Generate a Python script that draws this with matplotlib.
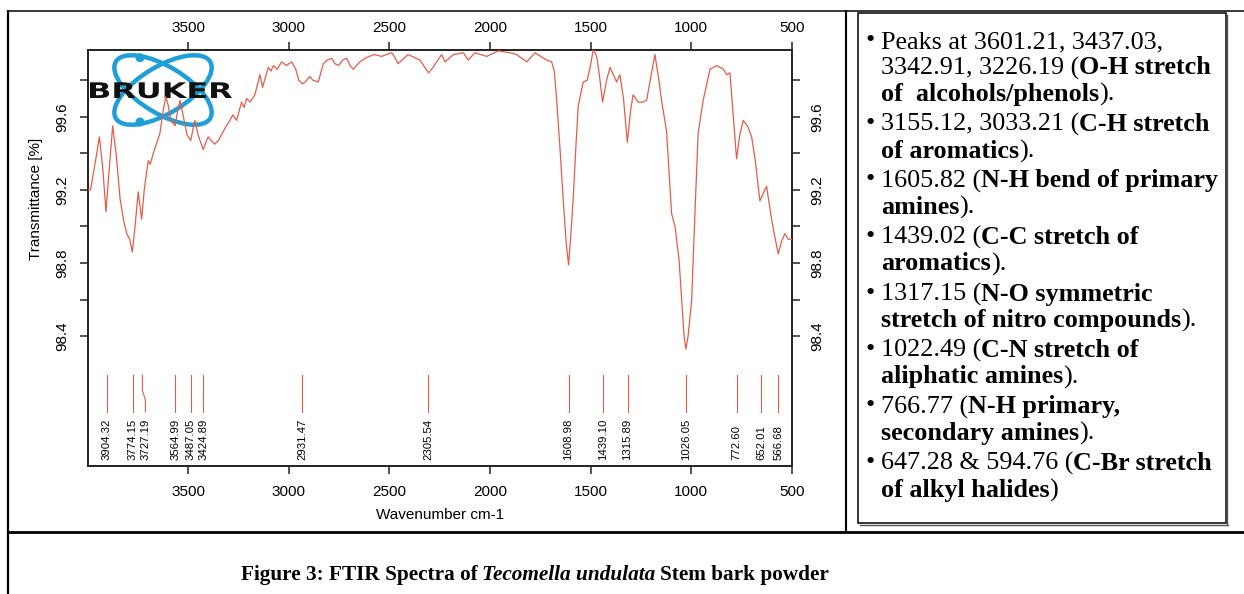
import matplotlib
matplotlib.use('Agg')
import matplotlib.pyplot as plt
import numpy as np
from matplotlib.patches import Ellipse, Circle, Rectangle, PathPatch
from matplotlib.textpath import TextPath
from matplotlib.font_manager import FontProperties
from matplotlib.transforms import Affine2D, ScaledTranslation

# spectrum (wavenumber cm-1, transmittance %)
wavenumber = [4000, 3985, 3960, 3941, 3925, 3908, 3893, 3875, 3858, 3838, 3820, 3805,
              3790, 3777, 3762, 3748, 3740, 3731, 3718, 3698, 3688, 3673, 3658, 3640,
              3626, 3611, 3598, 3586, 3565, 3552, 3540, 3520, 3505, 3487, 3476, 3466,
              3450, 3425, 3412, 3400, 3385, 3368, 3350, 3330, 3310, 3292, 3278, 3259,
              3234, 3222, 3209, 3192, 3168, 3143, 3130, 3120, 3101, 3088, 3076, 3058,
              3035, 3012, 2985, 2965, 2950, 2931, 2918, 2895, 2880, 2853, 2828, 2808,
              2786, 2770, 2752, 2732, 2712, 2695, 2679, 2663, 2646, 2620, 2600, 2575,
              2538, 2515, 2488, 2470, 2456, 2447, 2407, 2348, 2305, 2283, 2240, 2223,
              2182, 2132, 2108, 2074, 2016, 1959, 1900, 1867, 1817, 1776, 1718, 1693,
              1680, 1668, 1650, 1636, 1620, 1609, 1598, 1586, 1572, 1561, 1536, 1516,
              1500, 1486, 1469, 1455, 1440, 1420, 1403, 1370, 1354, 1336, 1317, 1300,
              1288, 1263, 1240, 1221, 1200, 1180, 1160, 1147, 1122, 1097, 1080, 1060,
              1047, 1035, 1026, 1015, 997, 980, 965, 940, 906, 873, 840, 823,
              807, 790, 774, 758, 741, 720, 699, 680, 658, 625, 600, 585,
              567, 550, 534, 517, 500]
transmittance = [99.20, 99.20, 99.36, 99.49, 99.33, 99.08, 99.30, 99.55, 99.40, 99.15, 99.03, 98.96,
                 98.93, 98.86, 99.02, 99.19, 99.12, 99.04, 99.20, 99.36, 99.34, 99.40, 99.45, 99.51,
                 99.62, 99.71, 99.66, 99.58, 99.55, 99.63, 99.69, 99.58, 99.50, 99.47, 99.53, 99.58,
                 99.50, 99.42, 99.46, 99.49, 99.47, 99.45, 99.47, 99.51, 99.55, 99.58, 99.61, 99.58,
                 99.68, 99.65, 99.70, 99.68, 99.72, 99.83, 99.76, 99.80, 99.87, 99.85, 99.88, 99.86,
                 99.90, 99.88, 99.90, 99.86, 99.80, 99.78, 99.79, 99.82, 99.80, 99.79, 99.89, 99.91,
                 99.92, 99.89, 99.88, 99.91, 99.92, 99.88, 99.86, 99.88, 99.90, 99.92, 99.93, 99.94,
                 99.93, 99.94, 99.95, 99.92, 99.89, 99.90, 99.94, 99.91, 99.84, 99.87, 99.94, 99.90,
                 99.94, 99.95, 99.91, 99.95, 99.93, 99.96, 99.95, 99.94, 99.90, 99.95, 99.91, 99.90,
                 99.85, 99.69, 99.40, 99.15, 98.90, 98.79, 98.95, 99.15, 99.45, 99.66, 99.79, 99.80,
                 99.88, 99.97, 99.93, 99.82, 99.68, 99.80, 99.87, 99.79, 99.83, 99.70, 99.46, 99.64,
                 99.72, 99.68, 99.68, 99.69, 99.82, 99.94, 99.80, 99.69, 99.52, 99.07, 99.00, 98.82,
                 98.60, 98.40, 98.33, 98.40, 98.60, 99.10, 99.51, 99.69, 99.86, 99.88, 99.86, 99.83,
                 99.84, 99.60, 99.37, 99.50, 99.58, 99.55, 99.49, 99.35, 99.14, 99.22, 99.04, 98.95,
                 98.85, 98.92, 98.96, 98.93, 98.93]

peaks = [3904.32, 3774.15, 3727.19, 3564.99, 3487.05, 3424.89, 2931.47, 2305.54,
         1608.98, 1439.10, 1315.89, 1026.05, 772.60, 652.01, 566.68]
peak_text = ['3904.32', '3774.15', '3727.19', '3564.99', '3487.05', '3424.89', '2931.47',
             '2305.54', '1608.98', '1439.10', '1315.89', '1026.05', '772.60', '652.01', '566.68']
label_shift = {'3727.19': -15}

x_ticks = [3500, 3000, 2500, 2000, 1500, 1000, 500]
y_ticks = [98.4, 98.6, 98.8, 99.0, 99.2, 99.4, 99.6, 99.8]
y_ticklabels = ['98.4', '', '98.8', '', '99.2', '', '99.6', '']

box_lines = [
    (True, [('Peaks at 3601.21, 3437.03,', False)]),
    (False, [('3342.91, 3226.19 (', False), ('O-H stretch', True)]),
    (False, [('of  alcohols/phenols', True), (').', False)]),
    (True, [('3155.12, 3033.21 (', False), ('C-H stretch', True)]),
    (False, [('of aromatics', True), (').', False)]),
    (True, [('1605.82 (', False), ('N-H bend of primary', True)]),
    (False, [('amines', True), (').', False)]),
    (True, [('1439.02 (', False), ('C-C stretch of', True)]),
    (False, [('aromatics', True), (').', False)]),
    (True, [('1317.15 (', False), ('N-O symmetric', True)]),
    (False, [('stretch of nitro compounds', True), (').', False)]),
    (True, [('1022.49 (', False), ('C-N stretch of', True)]),
    (False, [('aliphatic amines', True), (').', False)]),
    (True, [('766.77 (', False), ('N-H primary,', True)]),
    (False, [('secondary amines', True), (').', False)]),
    (True, [('647.28 & 594.76 (', False), ('C-Br stretch', True)]),
    (False, [('of alkyl halides', True), (')', False)]),
]

caption = [('Figure 3: FTIR Spectra of', 'normal'), ('Tecomella undulata', 'italic'),
           ('Stem bark powder', 'normal')]

red = '#e35d4a'
plt.rcParams['font.family'] = ['Liberation Sans', 'DejaVu Sans']

fig = plt.figure(figsize=(12.44, 5.94), dpi=100)
page = fig.add_axes([0, 0, 1, 1])
page.set_xlim(0, 1244)
page.set_ylim(594, 0)
page.axis('off')

W, H = 1244, 594
ax = fig.add_axes([87.5 / W, 1 - 466 / H, 704.2 / W, 416 / H])
ax.set_facecolor('none')

# logo under the curve (page pixel coordinates)
blue = '#1e9fd8'
for ang in (31, -31):
    ax.add_patch(Ellipse((163, 90), 110, 47, angle=ang, fill=False, ec=blue, lw=3.2,
                         transform=page.transData, zorder=1))
for cy in (57.7, 122):
    ax.add_patch(Circle((140, cy), 4.5, fc=blue, ec='none', transform=page.transData, zorder=1))
tp = TextPath((0, 0), 'BRUKER', size=100, prop=FontProperties(family='DejaVu Sans', weight='bold'))
ext = tp.get_extents()
tr = Affine2D().translate(-ext.x0, -ext.y0).scale(142 / ext.width, -16 / ext.height).translate(90, 98.3)
ax.add_patch(PathPatch(tp, fc='#111111', ec='none', transform=tr + page.transData, zorder=2))

ax.plot(wavenumber, transmittance, color=red, lw=0.9, zorder=3)

# peak marker lines and labels
y_top, y_bot, y_lab = 98.187, 97.986, 97.722
for wn, txt in zip(peaks, peak_text):
    lx = wn + label_shift.get(txt, 0)
    if lx != wn:
        ax.plot([wn, wn, lx, lx], [y_top, 98.105, 98.05, y_bot], color=red, lw=0.8)
    else:
        ax.plot([wn, wn], [y_top, y_bot], color=red, lw=0.8)
    ax.text(lx, y_lab, txt, rotation=90, ha='center', va='bottom', fontsize=8.2)

ax.set_xlim(4000, 500)
ax.set_ylim(97.69, 99.965)
ax.set_xticks(x_ticks)
ax.set_yticks(y_ticks)
ax.set_yticklabels(y_ticklabels, rotation=90, va='center')
for lab in ax.get_yticklabels(which='both'):
    lab.set_va('center')
ax.tick_params(axis='both', top=True, right=True, labeltop=True, labelright=True,
               direction='out', length=5.8, width=1.1, labelsize=11, color='#222222')
ax.tick_params(axis='x', pad=5)
ax.tick_params(axis='y', pad=7.5)
# bottom labels sit a little lower than the top ones
shift = ScaledTranslation(0, -4 / 100, fig.dpi_scale_trans)
for tick in ax.xaxis.get_major_ticks():
    tick.label1.set_transform(tick.label1.get_transform() + shift)
for sp in ax.spines.values():
    sp.set_linewidth(1.4)
    sp.set_color('#222222')
ax.set_xlabel('Wavenumber cm-1', fontsize=11, va='center', ha='center')
ax.xaxis.set_label_coords(0.5006, -0.1178)
ax.set_ylabel('Transmittance [%]', fontsize=11, va='center', ha='center')
ax.yaxis.set_label_coords(-0.0731, 0.642)

# table lines
lk = dict(color='black', solid_capstyle='butt')
page.plot([7, 1244], [10.5, 10.5], lw=1.1, **lk)
page.plot([8, 8], [10, 594], lw=1.6, **lk)
page.plot([846, 846], [10, 532], lw=1.5, **lk)
page.plot([7, 1244], [532, 532], lw=2.0, **lk)

# text box with shadow
page.add_patch(Rectangle((858, 13), 368, 510, fill=False, ec='black', lw=1.1))
page.plot([1227, 1227], [15, 524.5], color='#555555', lw=1.0)
page.plot([860, 1227.5], [524.5, 524.5], color='#555555', lw=1.0)

renderer = fig.canvas.get_renderer()
serif = ['Liberation Serif', 'DejaVu Serif']
yc = 40
for i, (bullet, segs) in enumerate(box_lines):
    if i > 0:
        yc += 30 if bullet else 26.5
    yb = yc + 8
    if bullet:
        page.text(870, yb - 1, '\u2022', fontsize=19, family=serif, ha='center', va='baseline')
    x = 881
    for s, bold in segs:
        t = page.text(x, yb, s, fontsize=18.8, family=serif, fontweight='bold' if bold else 'normal',
                      ha='left', va='baseline')
        x += t.get_window_extent(renderer).width

# caption
texts = []
gap = 5
total = 0
for s, style in caption:
    t = page.text(0, 580, s, fontsize=15.3, family=serif, fontweight='bold', style=style,
                  ha='left', va='baseline')
    texts.append(t)
    total += t.get_window_extent(renderer).width
total += gap * (len(texts) - 1)
x = 535 - total / 2
for t in texts:
    t.set_x(x)
    x += t.get_window_extent(renderer).width + gap

fig.savefig('out.png', dpi=100)
